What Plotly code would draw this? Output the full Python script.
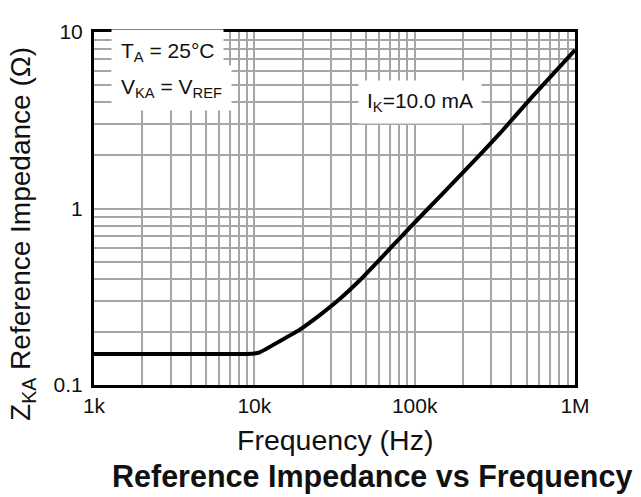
import plotly.graph_objects as go

freq_hz = [1000, 8100, 10000, 10800, 14400, 19200, 25600, 34200, 45500, 60700, 80900,
           108000, 211000, 341000, 549000, 1000000]
z_ka_ohm = [0.150, 0.150, 0.151, 0.153, 0.177, 0.206, 0.249, 0.308, 0.392, 0.515, 0.680,
            0.895, 1.68, 2.67, 4.36, 7.9]

x_tick_vals = [1000, 10000, 100000, 1000000]
x_tick_text = ["1k", "10k", "100k", "1M"]
y_tick_vals = [0.1, 1, 10]
y_tick_text = ["0.1", "1", "10"]

x_minor = [m * 10 ** e for e in range(3, 6) for m in range(2, 10)]
y_minor = [m * 10 ** e for e in range(-1, 1) for m in range(2, 10)]

FONT = "Liberation Sans, Arial, sans-serif"
GRID = "#a6a6a6"

fig = go.Figure()
fig.add_trace(go.Scatter(x=freq_hz, y=z_ka_ohm, mode="lines",
                         line=dict(color="black", width=4, shape="spline", smoothing=0.3),
                         showlegend=False))

fig.update_layout(
    width=633, height=489,
    margin=dict(l=86, r=66, t=15, b=112),
    paper_bgcolor="white", plot_bgcolor="white",
    font=dict(family=FONT, color="#111", size=21),
    xaxis=dict(type="log", range=[3, 6], tickvals=x_tick_vals, ticktext=x_tick_text,
               showgrid=True, gridcolor=GRID, gridwidth=1.6,
               minor=dict(tickvals=x_minor, showgrid=True, gridcolor=GRID, gridwidth=1.6, ticks=""),
               showline=True, linecolor="black", linewidth=3, mirror=True, ticks="",
               tickfont=dict(size=21)),
    yaxis=dict(type="log", range=[-1, 1], tickvals=y_tick_vals, ticktext=y_tick_text,
               showgrid=True, gridcolor=GRID, gridwidth=1.6,
               minor=dict(tickvals=y_minor, showgrid=True, gridcolor=GRID, gridwidth=1.6, ticks=""),
               showline=True, linecolor="black", linewidth=3, mirror=True, ticks="",
               ticklabelstandoff=4, tickfont=dict(size=21)),
)

# axis titles and chart title
fig.add_annotation(xref="paper", yref="paper", x=-0.1476, y=0.428, xanchor="center", yanchor="middle",
                   text="Z<sub>KA</sub> Reference Impedance (Ω)", textangle=-90, showarrow=False,
                   font=dict(size=28))
fig.add_annotation(xref="paper", yref="paper", x=0.501, y=-0.156, xanchor="center", yanchor="middle",
                   text="Frequency (Hz)", showarrow=False, font=dict(size=28.5))
fig.add_annotation(xref="paper", yref="paper", x=0.578, y=-0.258, xanchor="center", yanchor="middle",
                   text="<b>Reference Impedance vs Frequency</b>", showarrow=False,
                   font=dict(size=30.5))

# condition labels
fig.add_annotation(xref="paper", yref="paper", x=0.036, y=0.942, xanchor="left", yanchor="middle",
                   text="T<sub>A</sub> = 25°C", showarrow=False,
                   bgcolor="white", borderpad=9, font=dict(size=21))
fig.add_annotation(xref="paper", yref="paper", x=0.036, y=0.842, xanchor="left", yanchor="middle",
                   text="V<sub>KA</sub> = V<sub>REF</sub>", showarrow=False,
                   bgcolor="white", borderpad=9, font=dict(size=21))
fig.add_annotation(xref="paper", yref="paper", x=0.678, y=0.801, xanchor="center", yanchor="middle",
                   text="I<sub>K</sub>=10.0 mA", showarrow=False,
                   bgcolor="white", borderpad=8, font=dict(size=21))

fig.write_html("out.html")
